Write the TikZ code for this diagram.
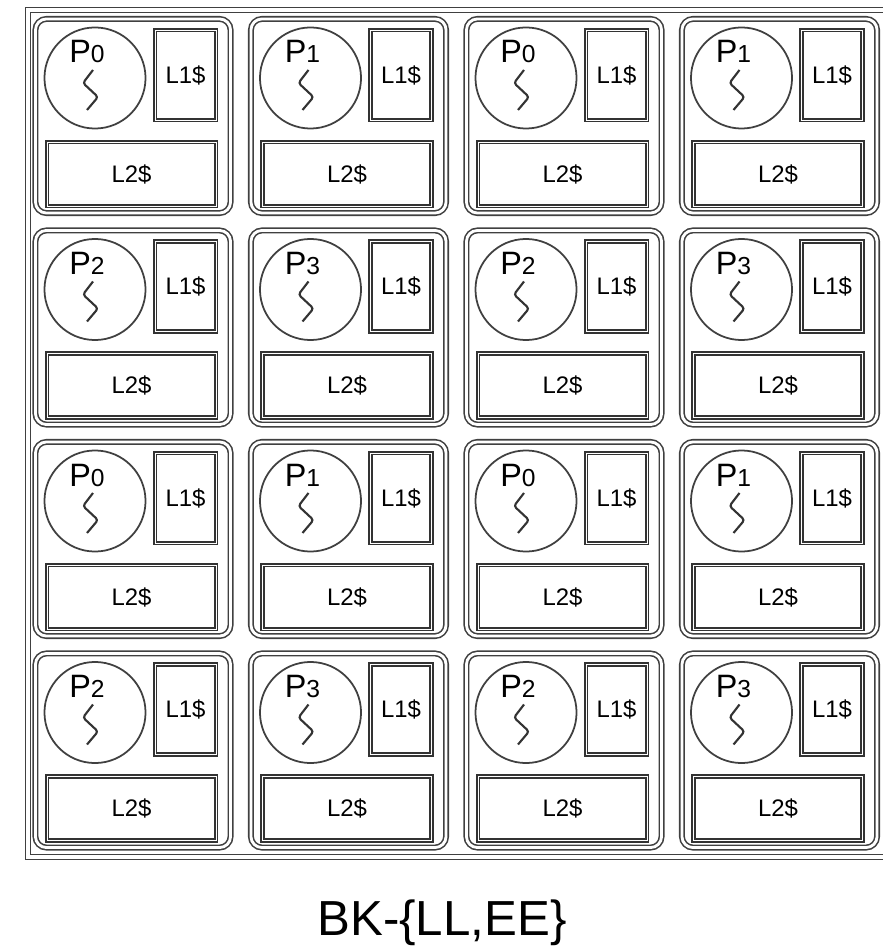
\documentclass[tikz,border=0pt]{standalone}
\usepackage{fontspec}
\setmainfont{Liberation Sans}
\usetikzlibrary{calc}

\begin{document}
\begin{tikzpicture}[
  x=0.01cm, y=-0.01cm,
  frame/.style={draw=black!75, double, double distance=0.9pt, line width=0.45pt},
  tile/.style={rectangle, draw=black!75, double, double distance=0.8pt, line width=0.45pt,
               rounded corners=1.1mm, minimum width=1.95cm, minimum height=1.94cm, inner sep=0pt},
  core/.style={circle, draw=black!75, line width=0.5pt, minimum size=1.01cm, inner sep=0pt},
  cache/.style={rectangle, draw=black!80, double, double distance=0.25pt, line width=0.5pt,
                inner sep=0pt, font=\fontsize{6.8}{8}\selectfont},
  plbl/.style={inner sep=0pt, anchor=base, font=\fontsize{9.2}{10}\selectfont},
  thread/.style={draw=black!80, line width=0.6pt, rounded corners=0.8pt},
  caption/.style={inner sep=0pt, anchor=base, font=\fontsize{14}{16}\selectfont},
]
\useasboundingbox (0,0) rectangle (883,949);
\draw[frame] (28,10) rectangle (900,857);
\foreach \r in {0,...,3}{
  \foreach \c in {0,...,3}{
    \pgfmathsetmacro\tx{33+215.5*\c}
    \pgfmathsetmacro\ty{17+211.5*\r}
    \pgfmathtruncatemacro\pid{2*mod(\r,2)+mod(\c,2)}
    \node[tile] (tile-\r-\c) at (\tx+100,\ty+99) {};
    \node[core] (p-\r-\c) at (\tx+62,\ty+61) {};
    \node[plbl] (pl-\r-\c) at ($(p-\r-\c)+(-8,-15)$) {P{\fontsize{7}{8}\selectfont\pid}};
    \draw[thread] ($(p-\r-\c)+(-2,-8)$) -- ($(p-\r-\c)+(-12,5)$)
      -- ($(p-\r-\c)+(3,19)$) -- ($(p-\r-\c)+(-8,32)$);
    \node[cache, minimum width=0.61cm, minimum height=0.90cm] (l1-\r-\c)
      at (\tx+152.5,\ty+58) {L1\$};
    \node[cache, minimum width=1.69cm, minimum height=0.64cm] (l2-\r-\c)
      at (\tx+98.5,\ty+157) {L2\$};
  }
}
\node[caption] (caption) at (442,935) {BK-\{LL,EE\}};
\end{tikzpicture}
\end{document}
